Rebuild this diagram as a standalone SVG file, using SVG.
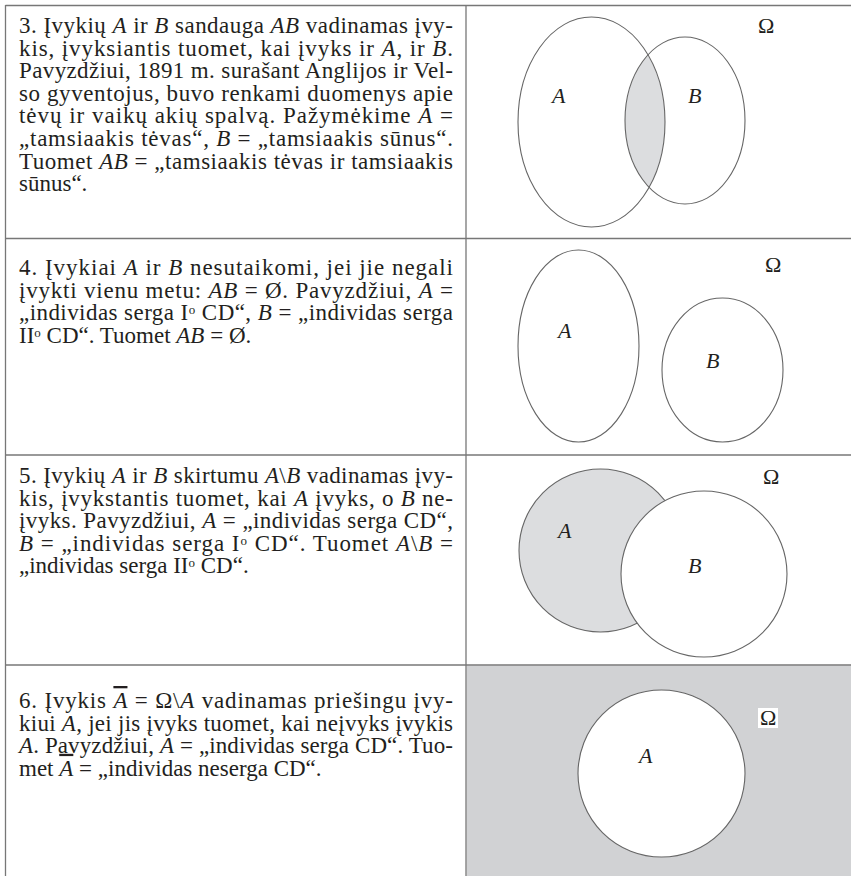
<svg xmlns="http://www.w3.org/2000/svg" width="851" height="876" viewBox="0 0 851 876">
<style>
.t{font-family:"Liberation Serif","Times New Roman",serif;font-size:23px;fill:#231f20}
.i{font-style:italic}
.ov{text-decoration:overline}
.lbl{font-family:"Liberation Serif","Times New Roman",serif;font-size:22px;font-style:italic;fill:#231f20}
.om{font-family:"Liberation Serif","Times New Roman",serif;font-size:22px;fill:#231f20}
.grid{stroke:#777;stroke-width:1.3;fill:none}
.set{stroke:#666;stroke-width:1.1}
.sup{font-size:13px}
</style>
<defs>
<clipPath id="clipB3"><ellipse cx="685" cy="120.5" rx="60" ry="83.5"/></clipPath>
</defs>
<rect x="0" y="0" width="851" height="876" fill="#fff"/>
<g id="table">
<rect x="466.5" y="665.5" width="384.5" height="210.5" fill="#d1d2d4"/>
<line class="grid" x1="5.5" y1="5.5" x2="851" y2="5.5"/>
<line class="grid" x1="5.5" y1="5" x2="5.5" y2="876"/>
<line class="grid" x1="466" y1="5" x2="466" y2="876"/>
<line class="grid" x1="5.5" y1="238.5" x2="851" y2="238.5"/>
<line class="grid" x1="5.5" y1="455" x2="851" y2="455"/>
<line class="grid" x1="5.5" y1="665" x2="851" y2="665"/>
</g>
<g id="text3">
<text class="t" x="19" y="33" textLength="434" lengthAdjust="spacing">3. Įvykių <tspan class="i">A</tspan> ir <tspan class="i">B</tspan> sandauga <tspan class="i">AB</tspan> vadinamas įvy-</text>
<text class="t" x="19" y="55.6" textLength="434" lengthAdjust="spacing">kis, įvyksiantis tuomet, kai įvyks ir <tspan class="i">A</tspan>, ir <tspan class="i">B</tspan>.</text>
<text class="t" x="19" y="78.2" textLength="434" lengthAdjust="spacing">Pavyzdžiui, 1891 m. surašant Anglijos ir Vel-</text>
<text class="t" x="19" y="100.8" textLength="434" lengthAdjust="spacing">so gyventojus, buvo renkami duomenys apie</text>
<text class="t" x="19" y="123.4" textLength="434" lengthAdjust="spacing">tėvų ir vaikų akių spalvą. Pažymėkime <tspan class="i">A</tspan> =</text>
<text class="t" x="19" y="146" textLength="434" lengthAdjust="spacing">„tamsiaakis tėvas“, <tspan class="i">B</tspan> = „tamsiaakis sūnus“.</text>
<text class="t" x="19" y="168.6" textLength="434" lengthAdjust="spacing">Tuomet <tspan class="i">AB</tspan> = „tamsiaakis tėvas ir tamsiaakis</text>
<text class="t" x="19" y="191.2">sūnus“.</text>
</g>
<g id="diagram3">
<ellipse cx="591.5" cy="122" rx="73.5" ry="105" fill="#dcdddf" clip-path="url(#clipB3)"/>
<ellipse class="set" cx="591.5" cy="122" rx="73.5" ry="105" fill="none"/>
<ellipse class="set" cx="685" cy="120.5" rx="60" ry="83.5" fill="none"/>
<text class="lbl" x="552" y="103">A</text>
<text class="lbl" x="688" y="103">B</text>
<text class="om" x="758" y="33">Ω</text>
</g>
<g id="text4">
<text class="t" x="19" y="275" textLength="434" lengthAdjust="spacing">4. Įvykiai <tspan class="i">A</tspan> ir <tspan class="i">B</tspan> nesutaikomi, jei jie negali</text>
<text class="t" x="19" y="297.6" textLength="434" lengthAdjust="spacing">įvykti vienu metu: <tspan class="i">AB</tspan> = Ø. Pavyzdžiui, <tspan class="i">A</tspan> =</text>
<text class="t" x="19" y="320.2" textLength="434" lengthAdjust="spacing">„individas serga I<tspan class="sup" dy="-6">o</tspan><tspan dy="6"> CD“, </tspan><tspan class="i">B</tspan> = „individas serga</text>
<text class="t" x="19" y="342.8">II<tspan class="sup" dy="-6">o</tspan><tspan dy="6"> CD“. Tuomet </tspan><tspan class="i">AB</tspan> = Ø.</text>
</g>
<g id="diagram4">
<ellipse class="set" cx="578.5" cy="346" rx="60.5" ry="96" fill="none"/>
<ellipse class="set" cx="722.5" cy="370" rx="60.5" ry="72" fill="none"/>
<text class="lbl" x="558" y="338">A</text>
<text class="lbl" x="706" y="368">B</text>
<text class="om" x="765" y="272">Ω</text>
</g>
<g id="text5">
<text class="t" x="19" y="483" textLength="434" lengthAdjust="spacing">5. Įvykių <tspan class="i">A</tspan> ir <tspan class="i">B</tspan> skirtumu <tspan class="i">A</tspan>\<tspan class="i">B</tspan> vadinamas įvy-</text>
<text class="t" x="19" y="505.6" textLength="434" lengthAdjust="spacing">kis, įvykstantis tuomet, kai <tspan class="i">A</tspan> įvyks, o <tspan class="i">B</tspan> ne-</text>
<text class="t" x="19" y="528.2" textLength="434" lengthAdjust="spacing">įvyks. Pavyzdžiui, <tspan class="i">A</tspan> = „individas serga CD“,</text>
<text class="t" x="19" y="550.8" textLength="434" lengthAdjust="spacing"><tspan class="i">B</tspan> = „individas serga I<tspan class="sup" dy="-6">o</tspan><tspan dy="6"> CD“. Tuomet </tspan><tspan class="i">A</tspan>\<tspan class="i">B</tspan> =</text>
<text class="t" x="19" y="573.4">„individas serga II<tspan class="sup" dy="-6">o</tspan><tspan dy="6"> CD“.</tspan></text>
</g>
<g id="diagram5">
<circle class="set" cx="600.5" cy="550.5" r="81.5" fill="#dcdddf"/>
<circle class="set" cx="704" cy="574" r="83" fill="#fff"/>
<text class="lbl" x="558" y="538">A</text>
<text class="lbl" x="688" y="573">B</text>
<text class="om" x="763" y="484">Ω</text>
</g>
<g id="text6">
<text class="t" x="19" y="708" textLength="434" lengthAdjust="spacing">6. Įvykis  <tspan class="i ov">A</tspan> = Ω\<tspan class="i">A</tspan> vadinamas priešingu įvy-</text>
<text class="t" x="19" y="730.6" textLength="434" lengthAdjust="spacing">kiui <tspan class="i">A</tspan>, jei jis įvyks tuomet, kai neįvyks įvykis</text>
<text class="t" x="19" y="753.2" textLength="434" lengthAdjust="spacing"><tspan class="i">A</tspan>. Pavyzdžiui, <tspan class="i">A</tspan> = „individas serga CD“. Tuo-</text>
<text class="t" x="19" y="775.8">met <tspan class="i ov">A</tspan> = „individas neserga CD“.</text>
</g>
<g id="diagram6">
<circle class="set" cx="661.5" cy="773.5" r="83.5" fill="#fff"/>
<text class="lbl" x="639" y="763">A</text>
<rect x="758" y="708" width="20" height="20" fill="#fff"/>
<text class="om" x="760" y="725">Ω</text>
</g>
</svg>
